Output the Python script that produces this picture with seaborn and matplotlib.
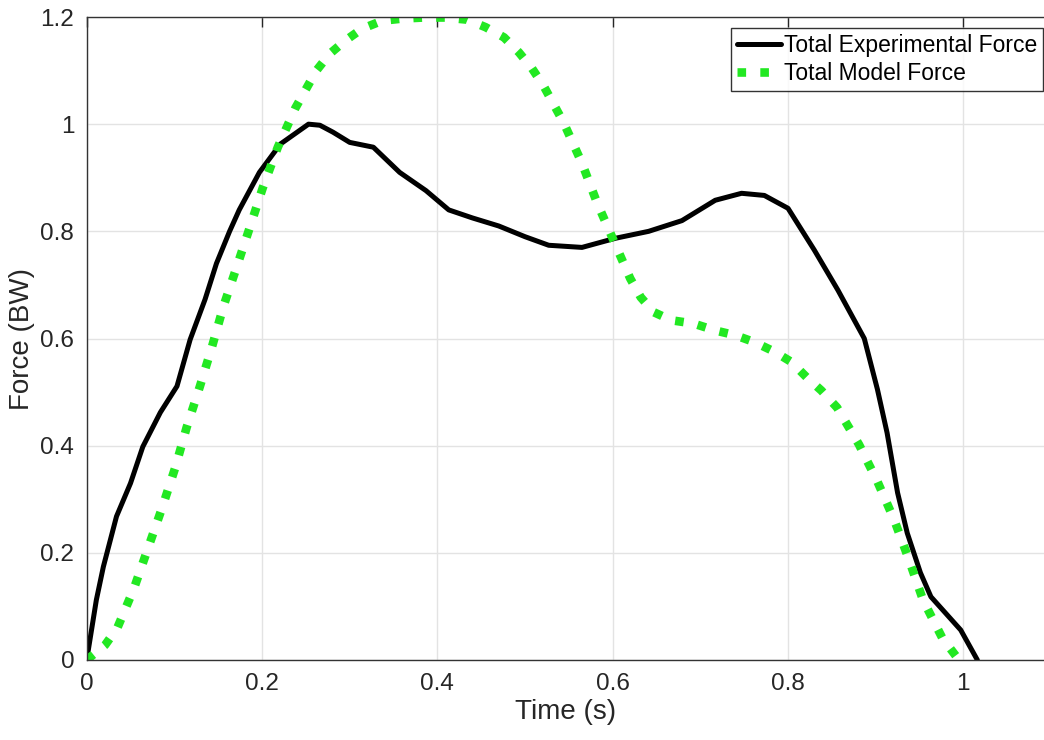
import matplotlib
matplotlib.use("Agg")
import matplotlib.pyplot as plt
import seaborn as sns

# Total Experimental Force (black solid)
t_exp = [0, 0.011, 0.019, 0.034, 0.05, 0.064, 0.084, 0.103, 0.118, 0.135, 0.148, 0.163,
         0.174, 0.197, 0.221, 0.253, 0.266, 0.281, 0.30, 0.327, 0.357, 0.387, 0.413, 0.44,
         0.47, 0.50, 0.527, 0.565, 0.603, 0.641, 0.679, 0.717, 0.747, 0.773, 0.80, 0.83,
         0.857, 0.887, 0.902, 0.913, 0.925, 0.936, 0.951, 0.963, 0.997, 1.016]
f_exp = [0, 0.112, 0.174, 0.268, 0.33, 0.398, 0.462, 0.511, 0.598, 0.673, 0.74, 0.80,
         0.84, 0.91, 0.963, 1.0, 0.998, 0.985, 0.966, 0.957, 0.91, 0.876, 0.84, 0.825,
         0.81, 0.79, 0.774, 0.77, 0.787, 0.80, 0.82, 0.858, 0.871, 0.867, 0.843, 0.765,
         0.69, 0.60, 0.505, 0.424, 0.312, 0.237, 0.163, 0.118, 0.056, 0]

# Total Model Force (green dotted)
t_mod = [0, 0.021, 0.035, 0.054, 0.070, 0.086, 0.101, 0.114, 0.129, 0.143, 0.156, 0.171,
         0.186, 0.201, 0.218, 0.238, 0.262, 0.277, 0.295, 0.314, 0.337, 0.36, 0.384, 0.409,
         0.434, 0.455, 0.476, 0.493, 0.508, 0.521, 0.544, 0.565, 0.582, 0.601, 0.620, 0.632,
         0.647, 0.667, 0.692, 0.717, 0.740, 0.762, 0.785, 0.804, 0.821, 0.838, 0.856, 0.881,
         0.902, 0.921, 0.938, 0.954, 0.976, 0.995]
f_mod = [0, 0.028, 0.06, 0.134, 0.209, 0.284, 0.359, 0.434, 0.51, 0.585, 0.66, 0.733,
         0.807, 0.882, 0.957, 1.03, 1.10, 1.131, 1.156, 1.178, 1.193, 1.197, 1.199, 1.199,
         1.195, 1.181, 1.162, 1.134, 1.104, 1.072, 1.003, 0.927, 0.854, 0.783, 0.712, 0.677,
         0.649, 0.634, 0.628, 0.615, 0.606, 0.593, 0.575, 0.556, 0.528, 0.503, 0.471, 0.402,
         0.333, 0.262, 0.187, 0.112, 0.041, 0]

x_ticks = [0, 0.2, 0.4, 0.6, 0.8, 1]
x_labels = ["0", "0.2", "0.4", "0.6", "0.8", "1"]
y_ticks = [0, 0.2, 0.4, 0.6, 0.8, 1, 1.2]
y_labels = ["0", "0.2", "0.4", "0.6", "0.8", "1", "1.2"]

sns.set_style("white")
plt.rcParams["font.family"] = ["Liberation Sans", "DejaVu Sans"]

fig = plt.figure(figsize=(10.44, 7.40), dpi=100)
ax = fig.add_axes([86.7 / 1044, 80 / 740, 1 - 86.7 / 1044, (660 - 17) / 740])

txt = "#262626"
sns.lineplot(x=t_exp, y=f_exp, ax=ax, color="black", linewidth=3.6, sort=False,
             label="Total Experimental Force")
sns.lineplot(x=t_mod, y=f_mod, ax=ax, color="#22e822", linewidth=6.2, linestyle=":",
             sort=False, label="Total Model Force")

ax.set_xlim(0, 1.092)
ax.set_ylim(0, 1.2)
ax.set_xticks(x_ticks)
ax.set_xticklabels(x_labels)
ax.set_yticks(y_ticks)
ax.set_yticklabels(y_labels)
ax.grid(True, color="#e3e3e3", linewidth=1.0)
ax.set_axisbelow(True)
ax.tick_params(direction="in", length=7, width=1, colors="#262626", labelsize=17.5,
               top=True, right=False, pad=9)
for s in ["left", "bottom", "top"]:
    ax.spines[s].set_color("#333333")
    ax.spines[s].set_linewidth(1.0)
ax.spines["right"].set_visible(False)

ax.set_xlabel("Time (s)", fontsize=20, color=txt, labelpad=3)
ax.set_ylabel("Force (BW)", fontsize=20, color=txt, labelpad=4)

leg = ax.legend(loc="upper right", bbox_to_anchor=(1043 / 1044, 1 - 28 / 740),
                bbox_transform=fig.transFigure, fontsize=16.5, frameon=True,
                fancybox=False, edgecolor="black", handlelength=1.9,
                handletextpad=0.15, borderpad=0.25, labelspacing=0.25,
                borderaxespad=0)
leg.get_frame().set_linewidth(1.0)
for t in leg.get_texts():
    t.set_color("black")

fig.savefig("out.png", dpi=100)
